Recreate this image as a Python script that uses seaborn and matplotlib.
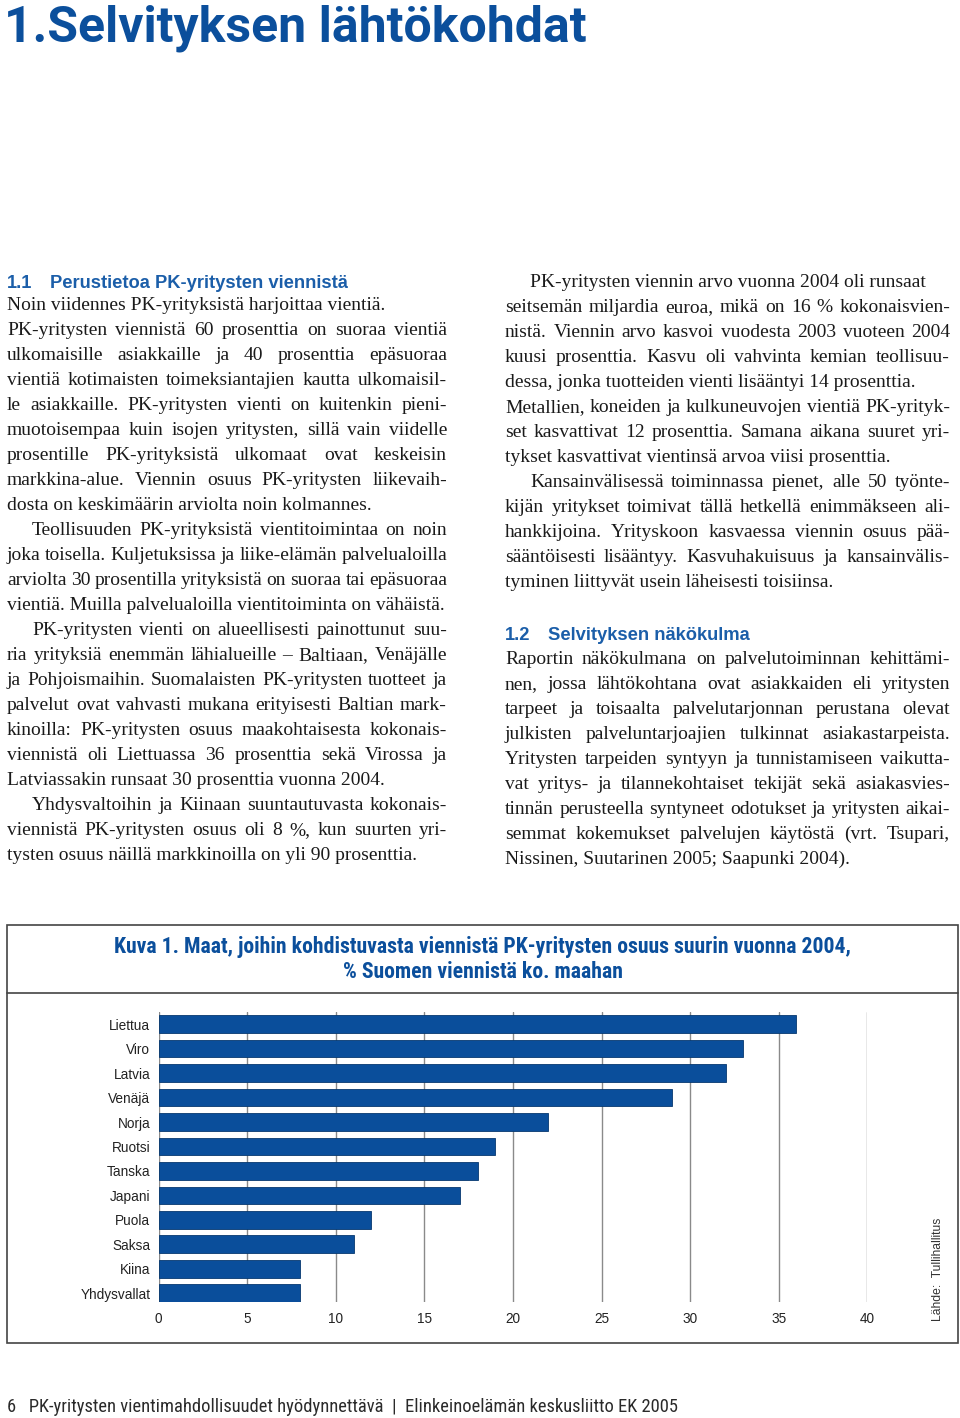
import matplotlib
matplotlib.use("Agg")
import matplotlib.pyplot as plt
from matplotlib import font_manager
from matplotlib.patches import Rectangle
from matplotlib.lines import Line2D
import pandas as pd
import seaborn as sns

# ── data ──────────────────────────────────
maat = ["Liettua", "Viro", "Latvia", "Venäjä", "Norja", "Ruotsi",
        "Tanska", "Japani", "Puola", "Saksa", "Kiina", "Yhdysvallat"]
osuus = [36, 33, 32, 29, 22, 19, 18, 17, 12, 11, 8, 8]
x_ticks = [0, 5, 10, 15, 20, 25, 30, 35, 40]

page_title = "1.Selvityksen lähtökohdat"
chart_title = ["Kuva 1. Maat, joihin kohdistuvasta viennistä PK-yritysten osuus suurin vuonna 2004,",
               "% Suomen viennistä ko. maahan"]
source_text = "Lähde:  Tullihallitus"
footer_text = "6   PK-yritysten vientimahdollisuudet hyödynnettävä  |  Elinkeinoelämän keskusliitto EK 2005"

# (text, indent, justify)
left_lines = [
    ("Noin viidennes PK-yrityksistä harjoittaa vientiä.", 0, False),
    ("PK-yritysten viennistä 60 prosenttia on suoraa vientiä", 0, True),
    ("ulkomaisille asiakkaille ja 40 prosenttia epäsuoraa", 0, True),
    ("vientiä kotimaisten toimeksiantajien kautta ulkomaisil-", 0, True),
    ("le asiakkaille. PK-yritysten vienti on kuitenkin pieni-", 0, True),
    ("muotoisempaa kuin isojen yritysten, sillä vain viidelle", 0, True),
    ("prosentille PK-yrityksistä ulkomaat ovat keskeisin", 0, True),
    ("markkina-alue. Viennin osuus PK-yritysten liikevaih-", 0, True),
    ("dosta on keskimäärin arviolta noin kolmannes.", 0, False),
    ("Teollisuuden PK-yrityksistä vientitoimintaa on noin", 1, True),
    ("joka toisella. Kuljetuksissa ja liike-elämän palvelualoilla", 0, True),
    ("arviolta 30 prosentilla yrityksistä on suoraa tai epäsuoraa", 0, True),
    ("vientiä. Muilla palvelualoilla vientitoiminta on vähäistä.", 0, False),
    ("PK-yritysten vienti on alueellisesti painottunut suu-", 1, True),
    ("ria yrityksiä enemmän lähialueille – Baltiaan, Venäjälle", 0, True),
    ("ja Pohjoismaihin. Suomalaisten PK-yritysten tuotteet ja", 0, True),
    ("palvelut ovat vahvasti mukana erityisesti Baltian mark-", 0, True),
    ("kinoilla: PK-yritysten osuus maakohtaisesta kokonais-", 0, True),
    ("viennistä oli Liettuassa 36 prosenttia sekä Virossa ja", 0, True),
    ("Latviassakin runsaat 30 prosenttia vuonna 2004.", 0, False),
    ("Yhdysvaltoihin ja Kiinaan suuntautuvasta kokonais-", 1, True),
    ("viennistä PK-yritysten osuus oli 8 %, kun suurten yri-", 0, True),
    ("tysten osuus näillä markkinoilla on yli 90 prosenttia.", 0, False),
]
right_lines_a = [
    ("PK-yritysten viennin arvo vuonna 2004 oli runsaat", 1, False),
    ("seitsemän miljardia euroa, mikä on 16 % kokonaisvien-", 0, True),
    ("nistä. Viennin arvo kasvoi vuodesta 2003 vuoteen 2004", 0, True),
    ("kuusi prosenttia. Kasvu oli vahvinta kemian teollisuu-", 0, True),
    ("dessa, jonka tuotteiden vienti lisääntyi 14 prosenttia.", 0, False),
    ("Metallien, koneiden ja kulkuneuvojen vientiä PK-yrityk-", 0, True),
    ("set kasvattivat 12 prosenttia. Samana aikana suuret yri-", 0, True),
    ("tykset kasvattivat vientinsä arvoa viisi prosenttia.", 0, False),
    ("Kansainvälisessä toiminnassa pienet, alle 50 työnte-", 1, True),
    ("kijän yritykset toimivat tällä hetkellä enimmäkseen ali-", 0, True),
    ("hankkijoina. Yrityskoon kasvaessa viennin osuus pää-", 0, True),
    ("sääntöisesti lisääntyy. Kasvuhakuisuus ja kansainvälis-", 0, True),
    ("tyminen liittyvät usein läheisesti toisiinsa.", 0, False),
]
right_lines_b = [
    ("Raportin näkökulmana on palvelutoiminnan kehittämi-", 0, True),
    ("nen, jossa lähtökohtana ovat asiakkaiden eli yritysten", 0, True),
    ("tarpeet ja toisaalta palvelutarjonnan perustana olevat", 0, True),
    ("julkisten palveluntarjoajien tulkinnat asiakastarpeista.", 0, True),
    ("Yritysten tarpeiden syntyyn ja tunnistamiseen vaikutta-", 0, True),
    ("vat yritys- ja tilannekohtaiset tekijät sekä asiakasvies-", 0, True),
    ("tinnän perusteella syntyneet odotukset ja yritysten aikai-", 0, True),
    ("semmat kokemukset palvelujen käytöstä (vrt. Tsupari,", 0, True),
    ("Nissinen, Suutarinen 2005; Saapunki 2004).", 0, False),
]

# ── style ─────────────────────────────────
sns.set_style("white")
names = {f.name for f in font_manager.fontManager.ttflist}
NARROW = "Roboto Condensed" if "Roboto Condensed" in names else "Roboto"
SANS = "Liberation Sans"
SERIF = "Liberation Serif"
plt.rcParams["font.family"] = [SANS, "DejaVu Sans"]

BLUE = "#0b4f9c"
HEAD_BLUE = "#1b5ea9"
BAR = "#0a4e9b"
TXT = "#1a1a1a"

W, H = 960, 1418
fig = plt.figure(figsize=(W / 100, H / 100), dpi=100, facecolor="white")
renderer = fig.canvas.get_renderer()


def fx(x):
    return x / W


def fy(y):
    return 1 - y / H


def put_line(x0, x1, y, s, justify, **kw):
    words = s.split(" ")
    if not justify or len(words) == 1:
        fig.text(fx(x0), fy(y), s, **kw)
        return
    objs = [fig.text(0, fy(y), w, **kw) for w in words]
    widths = [o.get_window_extent(renderer=renderer).width for o in objs]
    gap = (x1 - x0 - sum(widths)) / (len(words) - 1)
    x = x0
    for o, w in zip(objs, widths):
        o.set_x(fx(x))
        x += w + gap


body_kw = dict(family=[SERIF, "DejaVu Serif"], fontsize=14.0, color=TXT, va="baseline")
INDENT = 25


def column(lines, x0, x1, y0):
    for i, (s, ind, just) in enumerate(lines):
        put_line(x0 + ind * INDENT, x1, y0 + 25 * i, s, just, **body_kw)


# ── page title ────────────────────────────
t = fig.text(fx(4), fy(41), page_title, family=["Roboto", "DejaVu Sans"], fontsize=36,
             fontweight="bold", color=BLUE, va="baseline")
tw = t.get_window_extent(renderer=renderer).width
t.set_fontsize(min(36 * 596 / tw, 36))

# ── headings + body text ─────────────────
head_kw = dict(family=[SANS, "DejaVu Sans"], fontsize=13.2, fontweight="bold",
               color=HEAD_BLUE, va="baseline")
fig.text(fx(7), fy(288), "1.1", **head_kw)
fig.text(fx(50), fy(288), "Perustietoa PK-yritysten viennistä", **head_kw)
column(left_lines, 7, 447, 310)

column(right_lines_a, 505, 950, 287)
fig.text(fx(505), fy(640), "1.2", **head_kw)
fig.text(fx(548), fy(640), "Selvityksen näkökulma", **head_kw)
column(right_lines_b, 505, 950, 664)

# ── chart frame ───────────────────────────
fig.add_artist(Rectangle((fx(7), fy(1343)), fx(958) - fx(7), fy(925) - fy(1343),
                         transform=fig.transFigure, fill=False, edgecolor="#444444",
                         linewidth=1.2))
fig.add_artist(Line2D([fx(7), fx(958)], [fy(993), fy(993)], transform=fig.transFigure,
                      color="#444444", linewidth=1.2))
for i, line in enumerate(chart_title):
    ct = fig.text(0.503, fy(953 + 25 * i), line, family=[NARROW, "DejaVu Sans"], fontsize=14,
                  fontweight="bold", color=BLUE, ha="center", va="baseline")
    if i == 0:
        cw = ct.get_window_extent(renderer=renderer).width
        ct_size = 14 * 740 / cw
    ct.set_fontsize(ct_size)

# ── bar chart ─────────────────────────────
df = pd.DataFrame({"maa": maat, "osuus": osuus})
ax = fig.add_axes([fx(158.7), fy(1302), fx(867.3) - fx(158.7), fy(1012) - fy(1302)])
ax.set_axisbelow(True)
ax.xaxis.grid(True, color="#8a8a8a", linewidth=1.0)
ax.yaxis.grid(False)
sns.barplot(data=df, x="osuus", y="maa", orient="h", color=BAR, saturation=1,
            width=0.72, edgecolor="#06386f", linewidth=0.6, ax=ax)
ax.set_xlim(0, 40)
ax.set_ylim(11.36, -0.5)
ax.set_xticks(x_ticks)
ax.set_xticklabels([str(t) for t in x_ticks])
ax.set_xlabel("")
ax.set_ylabel("")
ax.tick_params(axis="both", length=0, labelsize=9.8, colors="#222222")
ax.tick_params(axis="x", pad=7)
ax.tick_params(axis="y", pad=6)
for sp in ax.spines.values():
    sp.set_visible(False)

fig.text(fx(938), fy(1321), source_text, rotation=90, ha="center", va="bottom",
         fontsize=8.7, color="#333333")

# ── footer ────────────────────────────────
ft = fig.text(fx(7), fy(1412), footer_text, family=[NARROW, "DejaVu Sans"], fontsize=12.5,
              color="#2a2a2a", va="baseline")
fw = ft.get_window_extent(renderer=renderer).width
ft.set_fontsize(12.5 * 673 / fw)

fig.savefig("out.png", dpi=100, facecolor="white")
